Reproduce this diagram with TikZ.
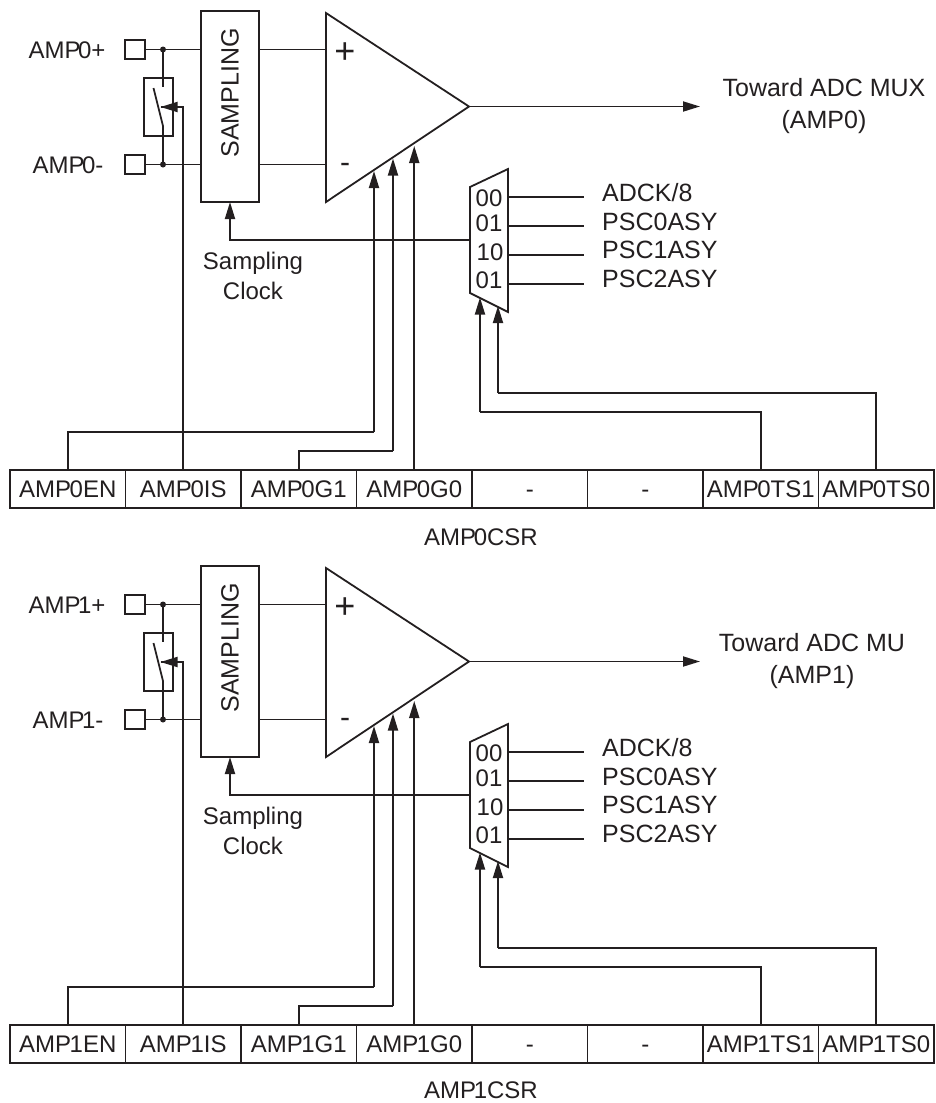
\documentclass[tikz,border=0pt]{standalone}
\usepackage{fontspec}
\setmainfont{Liberation Sans}
\usetikzlibrary{arrows.meta}
\definecolor{ink}{HTML}{231F20}
\tikzset{
  x=1pt,y=-1pt,
  wire/.style={draw=ink,line width=1.8pt},
  arr/.style={wire,-{Triangle[length=17pt,width=10pt]},shorten >=0pt},
  lab/.style={text=ink,font=\fontsize{24}{24}\selectfont,inner sep=0pt},
  biglab/.style={text=ink,font=\fontsize{25}{25}\selectfont,inner sep=0pt},
  llab/.style={biglab,anchor=west},
  box/.style={draw=ink,line width=1.8pt,fill=white,outer sep=0pt},
  pin/.style={box,minimum width=20pt,minimum height=19pt,inner sep=0pt},
  cell/.style={box,lab,minimum width=115.5pt,minimum height=38pt,anchor=west,inner sep=0pt,text height=17pt,text depth=0pt},
  junc/.style={circle,fill=ink,minimum size=6pt,inner sep=0pt},
}
\newcommand{\ampunit}[5]{% #1 id, #2 y offset, #3 output label, #4 x of output label, #5 y of register name
\begin{scope}[yshift=-#2pt]
  % pads and dots
  \node[pin] (pp#1) at (135,49.5) {};
  \node[pin] (pm#1) at (135,164.5) {};
  \node[lab] (tp#1) at (67,50) {AMP\kern-2.5pt #1+};
  \node[lab] (tm#1) at (68,165) {AMP\kern-2.5pt #1-};
  \node[box,minimum width=58pt,minimum height=191pt,inner sep=0pt] (sa#1) at (230,106.5) {};
  \node[biglab,rotate=90] (st#1) at (230,93) {SAMPLING};
  \node[junc] (jp#1) at (163,49.5) {};
  \node[junc] (jm#1) at (163,164.5) {};
  \draw[wire] (pp#1.east) -- (jp#1.center) -- (sa#1.west|-jp#1);
  \draw[wire] (pm#1.east) -- (jm#1.center) -- (sa#1.west|-jm#1);
  % switch
  \node[draw=ink,line width=1.8pt,outer sep=0pt,minimum width=29pt,minimum height=58pt,inner sep=0pt] (sw#1) at (158.5,107) {};
  \coordinate (su#1) at (163,87);
  \coordinate (sd#1) at (163,126);
  \coordinate (sb#1) at (153.5,88);
  \coordinate (sm#1) at (160.5,107);
  \draw[wire] (jp#1.center) -- (su#1);
  \draw[wire] (sd#1) -- (jm#1.center);
  \draw[wire] (sb#1) -- (sd#1);
  % amplifier
  \coordinate (ta#1) at (326,13);
  \coordinate (tb#1) at (326,202);
  \coordinate (tc#1) at (469,106.5);
  \draw[wire,line join=miter] (ta#1) -- (tc#1) -- (tb#1) -- cycle;
  \node[lab,font=\fontsize{36}{36}\selectfont] (plus#1) at (345,53) {+};
  \node[lab,font=\fontsize{30}{30}\selectfont] (minus#1) at (345,168) {-};
  \draw[wire] (sa#1.east|-jp#1) -- (ta#1|-jp#1);
  \draw[wire] (sa#1.east|-jm#1) -- (ta#1|-jm#1);
  \coordinate (oe#1) at (700,106.5);
  \draw[arr] (tc#1) -- (oe#1);
  \node[biglab,align=center,font=\fontsize{25}{32}\selectfont] (ol#1) at (#4,106) {Toward ADC #3\\(AMP#1)};
  % mux
  \coordinate (ma#1) at (470,187);
  \coordinate (mb#1) at (508,169);
  \coordinate (mc#1) at (508,312);
  \coordinate (md#1) at (470,293);
  \draw[wire,line join=miter] (ma#1) -- (mb#1) -- (mc#1) -- (md#1) -- cycle;
  \node[lab] (d0#1) at (489,198) {00};
  \node[lab] (d1#1) at (489,223) {01};
  \node[lab] (d2#1) at (490,252) {10};
  \node[lab] (d3#1) at (489,280) {01};
  \foreach \yy/\tx/\ty in {197/ADCK\slash 8/193,226/PSC0ASY/222,255/PSC1ASY/250,284/PSC2ASY/279}{
    \coordinate (ms) at (508,\yy);
    \coordinate (me) at (584,\yy);
    \draw[wire] (ms) -- (me);
    \node[llab] at (602,\ty) {\tx};
  }
  % clock
  \coordinate (ck#1) at (470,240);
  \draw[arr] (ck#1) -| (sa#1.south);
  \node[lab,align=center,font=\fontsize{24}{30}\selectfont] (cl#1) at (253,276) {Sampling\\Clock};
  % register
  \node[cell] (c1#1) at (10,489) {AMP\kern-1.5pt #1EN};
  \node[cell] (c2#1) at (c1#1.east) {AMP\kern-1.5pt #1IS};
  \node[cell] (c3#1) at (c2#1.east) {AMP\kern-1.5pt #1G1};
  \node[cell] (c4#1) at (c3#1.east) {AMP\kern-1.5pt #1G0};
  \node[cell] (c5#1) at (c4#1.east) {-};
  \node[cell] (c6#1) at (c5#1.east) {-};
  \node[cell] (c7#1) at (c6#1.east) {AMP\kern-1.5pt #1TS1};
  \node[cell] (c8#1) at (c7#1.east) {AMP\kern-1.5pt #1TS0};
  \node[lab] (rn#1) at (481,#5) {AMP\kern-2.5pt #1CSR};
  % control wires
  \coordinate (g1#1) at (374,171);
  \coordinate (g2#1) at (393,158.5);
  \coordinate (g3#1) at (c4#1.north|-0,146);
  \coordinate (h1#1) at (374,432);
  \coordinate (h2#1) at (393,451);
  \draw[wire] (c1#1.north) |- (h1#1);
  \draw[arr] (h1#1) -- (g1#1);
  \draw[wire] (c3#1.north) |- (h2#1);
  \draw[arr] (h2#1) -- (g2#1);
  \draw[arr] (c4#1.north) -- (g3#1);
  \draw[wire] (c2#1.north) |- (sm#1);
  \draw[arr] (c2#1.north|-sm#1) -- (sm#1);
  \coordinate (k1#1) at (480,412);
  \coordinate (k2#1) at (498,393);
  \coordinate (m1#1) at (480,297.5);
  \coordinate (m2#1) at (498,306);
  \draw[wire] (c7#1.north) |- (k1#1);
  \draw[arr] (k1#1) -- (m1#1);
  \draw[wire] (c8#1.north) |- (k2#1);
  \draw[arr] (k2#1) -- (m2#1);
\end{scope}}
\begin{document}
\begin{tikzpicture}
\useasboundingbox (0,0) rectangle (935,1103);
\ampunit{0}{0}{MUX}{824}{537.5}
\ampunit{1}{555}{MU}{812}{535}
\end{tikzpicture}
\end{document}
